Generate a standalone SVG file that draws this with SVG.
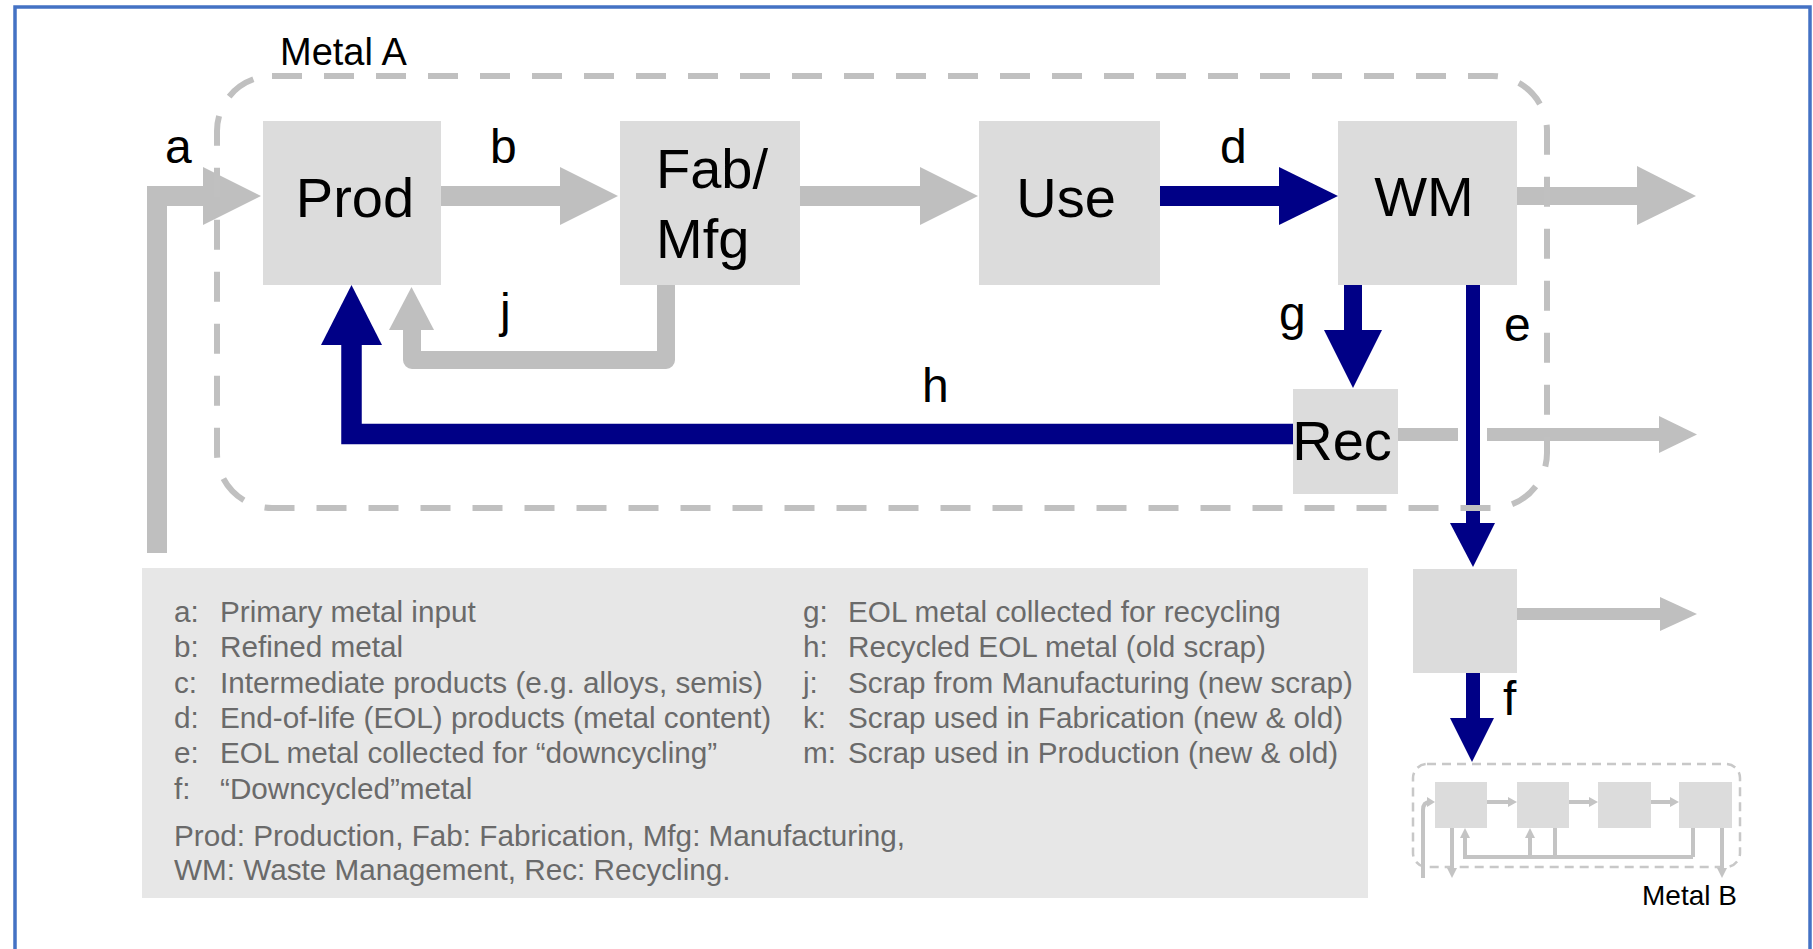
<svg xmlns="http://www.w3.org/2000/svg" width="1813" height="949" viewBox="0 0 1813 949">
<style>
.box{fill:#dcdcdc}
.gray{fill:#bfbfbf}
.navy{fill:#000086}
.gs{fill:none;stroke:#bfbfbf}
.ns{fill:none;stroke:#000086}
.node{font-family:"Liberation Sans",Arial,sans-serif;font-size:56px;fill:#000}
.lbl{font-family:"Liberation Sans",Arial,sans-serif;font-size:48px;fill:#000}
.leg{font-family:"Liberation Sans",Arial,sans-serif;font-size:29.7px;fill:#6a6a6a}
.title{font-family:"Liberation Sans",Arial,sans-serif;fill:#000}
.small{fill:none;stroke:#c4c4c4;stroke-width:4}
</style>
<rect x="0" y="0" width="1813" height="949" fill="#ffffff"/>
<rect x="15" y="7" width="1795" height="980" fill="none" stroke="#4472c4" stroke-width="3.5"/>

<!-- legend -->
<g id="legend">
<rect x="142" y="568" width="1226" height="330" fill="#e7e7e7"/>
<text class="leg" x="174" y="622">a:</text><text class="leg" x="220" y="622">Primary metal input</text>
<text class="leg" x="174" y="657">b:</text><text class="leg" x="220" y="657">Refined metal</text>
<text class="leg" x="174" y="693">c:</text><text class="leg" x="220" y="693">Intermediate products (e.g. alloys, semis)</text>
<text class="leg" x="174" y="728">d:</text><text class="leg" x="220" y="728">End-of-life (EOL) products (metal content)</text>
<text class="leg" x="174" y="763">e:</text><text class="leg" x="220" y="763">EOL metal collected for “downcycling”</text>
<text class="leg" x="174" y="799">f:</text><text class="leg" x="220" y="799">“Downcycled”metal</text>
<text class="leg" x="803" y="622">g:</text><text class="leg" x="848" y="622">EOL metal collected for recycling</text>
<text class="leg" x="803" y="657">h:</text><text class="leg" x="848" y="657">Recycled EOL metal (old scrap)</text>
<text class="leg" x="803" y="693">j:</text><text class="leg" x="848" y="693">Scrap from Manufacturing (new scrap)</text>
<text class="leg" x="803" y="728">k:</text><text class="leg" x="848" y="728">Scrap used in Fabrication (new &amp; old)</text>
<text class="leg" x="803" y="763">m:</text><text class="leg" x="848" y="763">Scrap used in Production (new &amp; old)</text>
<text class="leg" x="174" y="846">Prod: Production, Fab: Fabrication, Mfg: Manufacturing,</text>
<text class="leg" x="174" y="880">WM: Waste Management, Rec: Recycling.</text>
</g>

<!-- connectors -->
<g id="connectors">
<path class="gs" d="M157 553 V196 H205" stroke-width="20" stroke-linejoin="miter"/>
<polygon class="gray" points="203,167 261,196 203,225"/>
<rect class="gray" x="441" y="186" width="121" height="20"/>
<polygon class="gray" points="560,167 618,196 560,225"/>
<rect class="gray" x="800" y="186" width="122" height="20"/>
<polygon class="gray" points="920,167 978,196 920,225"/>
<rect class="navy" x="1160" y="186" width="121" height="20"/>
<polygon class="navy" points="1279,167 1338,196 1279,225"/>
<rect class="gray" x="1517" y="187" width="122" height="18"/>
<polygon class="gray" points="1637,166 1696,196 1637,225"/>
<rect class="navy" x="1344" y="284" width="18" height="48"/>
<polygon class="navy" points="1324,330 1382,330 1353,388"/>
<rect class="navy" x="1466" y="284" width="14" height="241"/>
<polygon class="navy" points="1450,523 1495,523 1473,567"/>
<rect class="gray" x="1398" y="428" width="60" height="13"/>
<rect class="gray" x="1487" y="428" width="174" height="13"/>
<polygon class="gray" points="1659,416 1697,434.5 1659,453"/>
<path class="ns" d="M1293 434 H351.5 V343" stroke-width="20.5" stroke-linejoin="miter"/>
<polygon class="navy" points="321,345 382,345 351.5,285"/>
<path class="gs" d="M666 284 V360 H412 V328" stroke-width="18" stroke-linejoin="round"/>
<polygon class="gray" points="389,330 434,330 411.5,287"/>
<rect class="gray" x="1517" y="608" width="145" height="12"/>
<polygon class="gray" points="1660,597 1697,614 1660,631"/>
<rect class="navy" x="1466" y="672" width="14" height="48"/>
<polygon class="navy" points="1450,718 1494,718 1472,762"/>
</g>

<!-- Metal A boundary -->
<g id="metalA">
<rect x="217" y="76" width="1330" height="432" rx="55" ry="55" fill="none" stroke="#c0c0c0" stroke-width="6" stroke-dasharray="30 22"/>
<text class="title" x="280" y="65" font-size="38">Metal A</text>
</g>

<!-- nodes -->
<g id="prod"><rect class="box" x="263" y="121" width="178" height="164"/><text class="node" x="355" y="217" text-anchor="middle">Prod</text></g>
<g id="fab"><rect class="box" x="620" y="121" width="180" height="164"/><text class="node" x="656" y="188">Fab/</text><text class="node" x="656" y="258">Mfg</text></g>
<g id="use"><rect class="box" x="979" y="121" width="181" height="164"/><text class="node" x="1066" y="217" text-anchor="middle">Use</text></g>
<g id="wm"><rect class="box" x="1338" y="121" width="179" height="164"/><text class="node" x="1424" y="216" text-anchor="middle">WM</text></g>
<g id="rec"><rect class="box" x="1293" y="389" width="105" height="105"/><text class="node" x="1342" y="460" text-anchor="middle" font-size="45">Rec</text></g>
<g id="downcycle"><rect class="box" x="1413" y="569" width="104" height="104"/></g>

<!-- labels -->
<g id="labels">
<text class="lbl" x="165" y="163">a</text>
<text class="lbl" x="490" y="163">b</text>
<text class="lbl" x="1220" y="163">d</text>
<text class="lbl" x="1279" y="330">g</text>
<text class="lbl" x="1504" y="341">e</text>
<text class="lbl" x="500" y="327">j</text>
<text class="lbl" x="922" y="402">h</text>
<text class="lbl" x="1503" y="715">f</text>
</g>

<!-- Metal B -->
<g id="metalB">
<rect x="1413" y="764" width="327" height="103" rx="14" ry="14" fill="none" stroke="#c8c8c8" stroke-width="2.5" stroke-dasharray="9 6"/>
<rect class="box" x="1435" y="782" width="52" height="46"/>
<rect class="box" x="1517" y="782" width="52" height="46"/>
<rect class="box" x="1598" y="782" width="53" height="46"/>
<rect class="box" x="1679" y="782" width="53" height="46"/>
<g fill="#c4c4c4">
<path class="small" d="M1487 802 H1510"/><polygon points="1508,797 1517,802 1508,807"/>
<path class="small" d="M1569 802 H1591"/><polygon points="1589,797 1598,802 1589,807"/>
<path class="small" d="M1651 802 H1672"/><polygon points="1670,797 1679,802 1670,807"/>
<path class="small" d="M1423 878 V810 Q1423 802 1430 802"/><polygon points="1427,797 1435,802 1427,807"/>
<path class="small" d="M1452 828 V870"/><polygon points="1447,868 1457,868 1452,878"/>
<path class="small" d="M1722 828 V870"/><polygon points="1717,868 1727,868 1722,878"/>
<path class="small" d="M1555 828 V857 M1693 828 V857 M1465 836 V857 H1693 M1530 836 V857"/>
<polygon points="1460,838 1470,838 1465,828"/>
<polygon points="1525,838 1535,838 1530,828"/>
</g>
<text class="title" x="1642" y="905" font-size="28">Metal B</text>
</g>
</svg>
